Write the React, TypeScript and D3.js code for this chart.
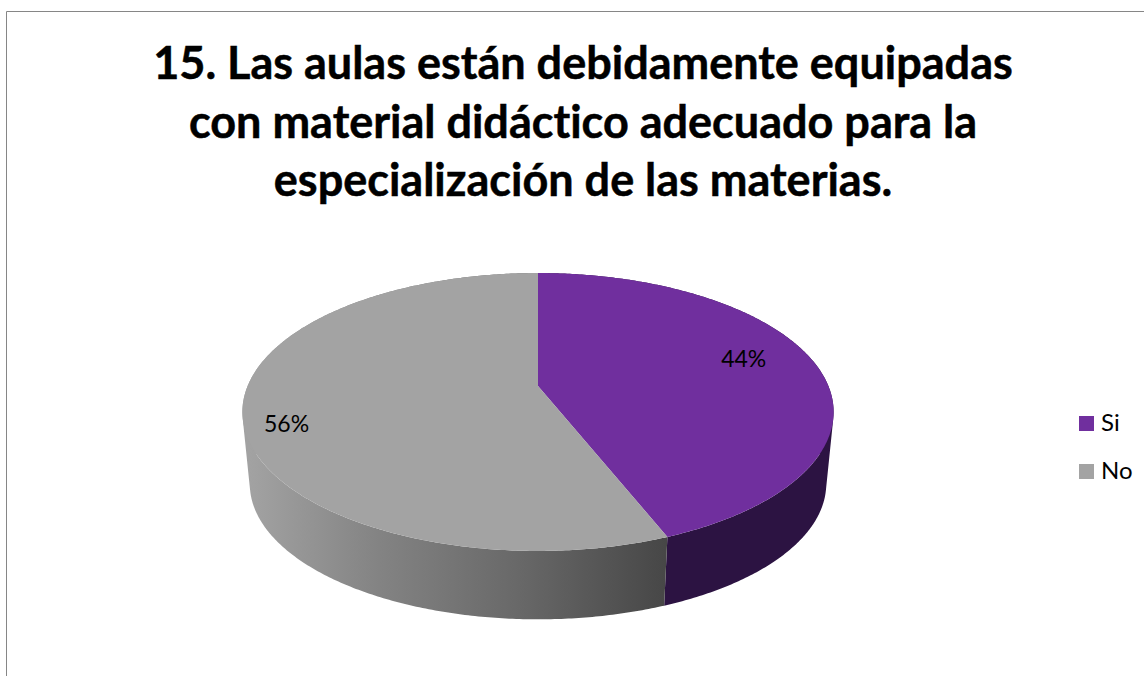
import React from "react";
import * as d3 from "d3";

const categories = ["Si", "No"];
const seriesValues = [44, 56];
const labels = ["44%", "56%"];
const titleLines = [
  "15. Las aulas están debidamente equipadas",
  "con material didáctico adecuado para la",
  "especialización de las materias.",
];
const topColors = ["#702f9e", "#a3a3a3"];

const W = 1144;
const H = 676;
const cx = 538;
const cy = 386;
const A = 290.4;
const B = 134.1;
const C = -0.187;
const depth = 72.5;
const bottomScale = 0.975;
const font = "Lato, 'Open Sans', sans-serif";

function project(angle: number, t = 1) {
  const u = Math.sin(angle) * t;
  const v = -Math.cos(angle) * t;
  const d = 1 + C * v;
  return [cx + (A * u) / d, cy + (B * v) / d] as [number, number];
}
function projectBottom(angle: number) {
  const [x, y] = project(angle);
  return [cx + (x - cx) * bottomScale, cy + depth + (y - cy) * bottomScale] as [number, number];
}

const slices = d3.pie<number>().sort(null)(seriesValues);
const line = d3.line();

function rim(start: number, end: number, fn: (a: number) => [number, number]) {
  const n = Math.max(2, Math.ceil((end - start) / 0.01));
  return d3.range(n + 1).map((i) => fn(start + ((end - start) * i) / n));
}

// The wall of a slice, as consistently wound strips so the silhouette at the
// tangent points of the two rims is filled as well.
function wallPath(start: number, end: number) {
  const a = rim(start, end, project);
  const b = rim(start, end, projectBottom);
  return d3
    .range(a.length - 1)
    .map((i) => {
      const quad: [number, number][] = [a[i], a[i + 1], b[i + 1], b[i]];
      if (d3.polygonArea(quad) < 0) quad.reverse();
      return line(quad) + "Z";
    })
    .join("");
}

const labelPlacement = [
  { t: 0.74, dy: -10 },
  { t: 0.855, dy: 15 },
];

export default function App() {
  return (
    <svg
      width={W}
      height={H}
      viewBox={`0 0 ${W} ${H}`}
      style={{ position: "absolute", left: 0, top: 0, background: "#fff" }}
    >
      <defs>
        <linearGradient id="sideGray" gradientUnits="userSpaceOnUse" x1={250} x2={665} y1={0} y2={0}>
          <stop offset="0" stopColor="#a2a2a2" />
          <stop offset="0.3" stopColor="#848484" />
          <stop offset="0.65" stopColor="#686868" />
          <stop offset="1" stopColor="#474747" />
        </linearGradient>
      </defs>
      <path d={`M6.5 ${H}V11.5H${W}`} fill="none" stroke="#868686" strokeWidth={1} />

      {titleLines.map((t, i) => (
        <text
          key={t}
          x={583}
          y={79 + i * 58.7}
          textAnchor="middle"
          fontFamily={font}
          fontWeight={700}
          fontSize={45}
          fill="#000"
          stroke="#000"
          strokeWidth={0.5}
          style={{ fontVariantLigatures: "none" }}
        >
          {t}
        </text>
      ))}

      {slices.map((s, i) => (
        <path
          key={"side" + i}
          d={wallPath(s.startAngle, s.endAngle)}
          fill={i === 0 ? "#2c1342" : "url(#sideGray)"}
        />
      ))}
      {slices.map((s, i) => (
        <path
          key={"top" + i}
          d={line([[cx, cy], ...rim(s.startAngle, s.endAngle, project)]) + "Z"}
          fill={topColors[i]}
        />
      ))}

      {slices.map((s, i) => {
        const [x, y] = project((s.startAngle + s.endAngle) / 2, labelPlacement[i].t);
        return (
          <text
            key={"label" + i}
            x={x}
            y={y + labelPlacement[i].dy}
            textAnchor="middle"
            dominantBaseline="central"
            fontFamily={font}
            fontSize={23}
            fill="#000"
            style={{ fontVariantLigatures: "none" }}
          >
            {labels[i]}
          </text>
        );
      })}

      {categories.map((c, i) => (
        <g key={c} transform={`translate(1079,${416 + i * 48})`}>
          <rect width={15} height={15} fill={topColors[i]} />
          <text x={22} y={15} fontFamily={font} fontSize={24} fill="#000">
            {c}
          </text>
        </g>
      ))}
    </svg>
  );
}
